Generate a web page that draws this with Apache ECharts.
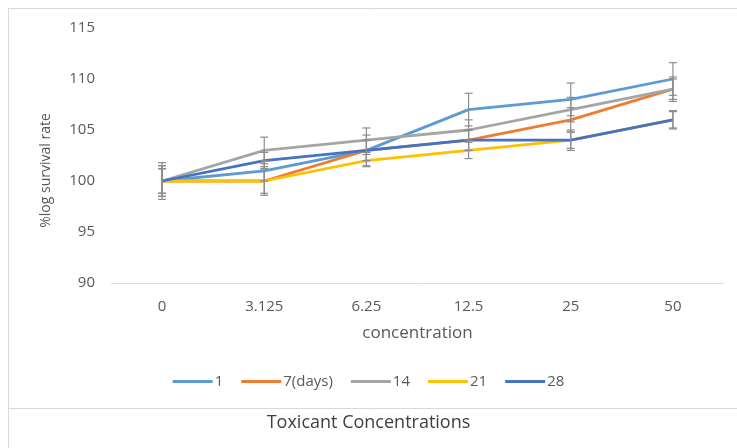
<!DOCTYPE html>
<html>
<head>
<meta charset="utf-8">
<script src="https://cdn.jsdelivr.net/npm/echarts@6/dist/echarts.min.js"></script>
<style>html,body{margin:0;padding:0;background:#fff;}#c{width:737px;height:448px;}</style>
</head>
<body>
<div id="c"></div>
<script>
var categories = ['0', '3.125', '6.25', '12.5', '25', '50'];
var seriesNames = ['1', '7(days)', '14', '21', '28'];
var s1  = [100, 101, 103, 107, 108, 110];
var s7  = [100, 100, 103, 104, 106, 109];
var s14 = [100, 103, 104, 105, 107, 109];
var s21 = [100, 100, 102, 103, 104, 106];
var s28 = [100, 102, 103, 104, 104, 106];
var e1  = [1.5, 1.0, 1.0, 1.6, 1.6, 1.6];
var e7  = [1.2, 1.2, 1.5, 1.0, 1.2, 1.2];
var e14 = [1.8, 1.3, 1.2, 1.0, 1.2, 1.0];
var e21 = [1.2, 1.4, 0.6, 0.8, 0.8, 0.8];
var e28 = [1.5, 0.8, 1.0, 1.0, 1.0, 0.9];
var yTicks = [90, 95, 100, 105, 110, 115];

var colors = ['#5B9BD5', '#ED7D31', '#A5A5A5', '#FFC000', '#4472C4'];
var values = [s1, s7, s14, s21, s28];
var errs = [e1, e7, e14, e21, e28];
var font = '"Open Sans", "Liberation Sans", sans-serif';

var chart = echarts.init(document.getElementById('c'), null, {renderer: 'canvas'});

var series = [];
values.forEach(function (v, i) {
  series.push({
    name: seriesNames[i], type: 'line', data: v, symbol: 'none',
    lineStyle: {color: colors[i], width: 2.8}, itemStyle: {color: colors[i]},
    z: 3 + i
  });
});
values.forEach(function (v, i) {
  var d = v.map(function (y, k) { return [k, y, errs[i][k]]; });
  series.push({
    type: 'custom', data: d, z: 10, silent: true,
    renderItem: function (params, api) {
      var x = api.value(0), y = api.value(1), e = api.value(2);
      var hi = api.coord([x, y + e]);
      var lo = api.coord([x, y - e]);
      var w = 4;
      var st = {stroke: '#8C8C8C', lineWidth: 1.2};
      return {type: 'group', children: [
        {type: 'line', shape: {x1: hi[0], y1: hi[1], x2: lo[0], y2: lo[1]}, style: st},
        {type: 'line', shape: {x1: hi[0] - w, y1: hi[1], x2: hi[0] + w, y2: hi[1]}, style: st},
        {type: 'line', shape: {x1: lo[0] - w, y1: lo[1], x2: lo[0] + w, y2: lo[1]}, style: st}
      ]};
    }
  });
});

chart.setOption({
  animation: false,
  backgroundColor: '#fff',
  textStyle: {fontFamily: font},
  grid: {left: 111, right: 13, top: 28, bottom: 165},
  legend: {
    data: seriesNames, bottom: 54, left: 'center',
    itemWidth: 40, itemHeight: 3, itemGap: 18, icon: 'rect',
    textStyle: {color: '#595959', fontSize: 15, fontFamily: font, padding: [0, 0, 0, -3]}
  },
  xAxis: {
    type: 'category', data: categories, boundaryGap: true,
    name: 'concentration', nameLocation: 'middle', nameGap: 42,
    nameTextStyle: {color: '#595959', fontSize: 17, fontFamily: font},
    axisLine: {lineStyle: {color: '#D9D9D9', width: 1}},
    axisTick: {show: false},
    axisLabel: {color: '#595959', fontSize: 15, margin: 16, fontFamily: font}
  },
  yAxis: {
    type: 'value', min: 90, max: 115, interval: 5,
    name: '%log survival rate', nameLocation: 'middle', nameGap: 58,
    nameTextStyle: {color: '#595959', fontSize: 14, fontFamily: font, padding: [0, 30, 0, 0]},
    axisLine: {show: false}, axisTick: {show: false},
    splitLine: {show: false},
    axisLabel: {color: '#595959', fontSize: 15, margin: 16, fontFamily: font,
      formatter: function (v) { return yTicks.indexOf(v) >= 0 ? String(v) : ''; }}
  },
  graphic: [
    {type: 'line', shape: {x1: 8, y1: 8.5, x2: 737, y2: 8.5}, style: {stroke: '#D9D9D9', lineWidth: 1}},
    {type: 'line', shape: {x1: 8.5, y1: 8, x2: 8.5, y2: 448}, style: {stroke: '#D9D9D9', lineWidth: 1}},
    {type: 'line', shape: {x1: 8, y1: 408.5, x2: 737, y2: 408.5}, style: {stroke: '#D9D9D9', lineWidth: 1}},
    {type: 'text', left: 'center', top: 414, style: {text: 'Toxicant Concentrations', fill: '#404040', font: '18px ' + font}}
  ],
  series: series
});
</script>
</body>
</html>
